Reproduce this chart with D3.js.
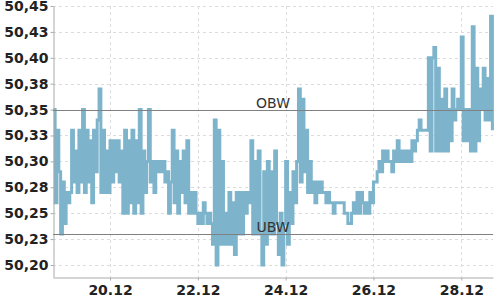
<!DOCTYPE html>
<html>
<head>
<meta charset="utf-8">
<script src="https://cdn.jsdelivr.net/npm/d3@7/dist/d3.min.js"></script>
<style>
  html, body { margin: 0; padding: 0; background: #fff; }
  svg { display: block; }
</style>
</head>
<body>
<svg id="chart" width="500" height="300"></svg>
<script>
// ---- data ----
const startTime = new Date(2023, 11, 18, 17, 0); // first sample, hourly samples
const prices = [
  50.35,50.26,50.33,50.29,50.23,50.28,50.24,50.27,50.26,50.27,
  50.33,50.28,50.31,50.27,50.33,50.28,50.35,50.27,50.33,50.28,
  50.32,50.26,50.33,50.29,50.34,50.37,50.27,50.33,50.27,50.31,
  50.27,50.32,50.28,50.32,50.29,50.32,50.28,50.31,50.25,50.33,
  50.25,50.32,50.26,50.33,50.25,50.32,50.26,50.35,50.25,50.31,
  50.27,50.30,50.35,50.28,50.30,50.27,50.30,50.29,50.30,50.29,
  50.30,50.28,50.29,50.25,50.28,50.33,50.26,50.31,50.25,50.30,
  50.27,50.31,50.26,50.32,50.25,50.27,50.25,50.27,50.25,50.24,
  50.25,50.24,50.26,50.25,50.24,50.25,50.24,50.22,50.34,50.20,
  50.33,50.22,50.30,50.22,50.25,50.22,50.27,50.22,50.26,50.21,
  50.27,50.23,50.27,50.23,50.27,50.25,50.27,50.26,50.32,50.23,
  50.30,50.23,50.31,50.23,50.20,50.29,50.22,50.30,50.23,50.29,
  50.23,50.31,50.24,50.21,50.25,50.20,50.24,50.30,50.22,50.27,
  50.24,50.29,50.26,50.30,50.37,50.28,50.36,50.29,50.33,50.27,
  50.30,50.27,50.28,50.26,50.28,50.27,50.28,50.27,50.27,50.26,
  50.27,50.26,50.26,50.25,50.26,50.26,50.26,50.26,50.26,50.25,
  50.25,50.24,50.24,50.25,50.26,50.25,50.27,50.25,50.27,50.26,
  50.25,50.26,50.25,50.27,50.26,50.28,50.28,50.29,50.30,50.29,
  50.31,50.30,50.31,50.30,50.30,50.29,50.31,50.30,50.32,50.30,
  50.31,50.30,50.31,50.30,50.31,50.30,50.32,50.31,50.32,50.33,
  50.34,50.33,50.33,50.33,50.33,50.40,50.31,50.40,50.41,50.31,
  50.39,50.31,50.36,50.31,50.37,50.31,50.35,50.32,50.37,50.34,
  50.35,50.36,50.35,50.42,50.32,50.35,50.32,50.35,50.31,50.43,
  50.31,50.39,50.32,50.37,50.35,50.39,50.34,50.38,50.34,50.44,
  50.33
];
const refValues = [50.35, 50.23];
const refLabels = ["OBW", "UBW"];
const yTicks = [50.20, 50.225, 50.25, 50.275, 50.30, 50.325, 50.35, 50.375, 50.40, 50.425, 50.45];
const yTickLabels = ["50,20","50,23","50,25","50,28","50,30","50,33","50,35","50,38","50,40","50,43","50,45"];
const xTicks = [new Date(2023,11,20), new Date(2023,11,22), new Date(2023,11,24), new Date(2023,11,26), new Date(2023,11,28)];
const xTickLabels = ["20.12","22.12","24.12","26.12","28.12"];
const xDomain = [new Date(2023,11,18,16,50), new Date(2023,11,28,17,20)];
const yDomain = [50.1884, 50.45];

// ---- chart ----
const svg = d3.select("#chart");
const pLeft = 53, pRight = 493, pTop = 6, pBottom = 277;
const x = d3.scaleTime().domain(xDomain).range([pLeft, pRight]);
const y = d3.scaleLinear().domain(yDomain).range([pBottom, pTop]);

const data = prices.map((v, i) => ({ t: d3.timeHour.offset(startTime, i), v }));

// grid
const grid = svg.append("g");
grid.selectAll("line.h").data(yTicks).join("line")
  .attr("x1", pLeft).attr("x2", pRight)
  .attr("y1", d => Math.round(y(d)) + 0.5).attr("y2", d => Math.round(y(d)) + 0.5)
  .attr("stroke", "#dcdcdc").attr("stroke-dasharray", "3,3");
grid.selectAll("line.v").data(xTicks).join("line")
  .attr("x1", d => Math.round(x(d)) + 0.5).attr("x2", d => Math.round(x(d)) + 0.5)
  .attr("y1", pTop).attr("y2", pBottom)
  .attr("stroke", "#dcdcdc").attr("stroke-dasharray", "3,3");

// data line
const line = d3.line().x(d => x(d.t)).y(d => y(d.v)).curve(d3.curveStepAfter);
svg.append("path").datum(data)
  .attr("d", line)
  .attr("fill", "none")
  .attr("stroke", "#7db4cc")
  .attr("stroke-width", 3)
  .attr("stroke-linejoin", "miter");

// axes
const yAxis = d3.axisLeft(y).tickValues(yTicks).tickFormat((d, i) => yTickLabels[i])
  .tickSize(3).tickSizeOuter(0).tickPadding(2);
const gy = svg.append("g").attr("transform", `translate(${pLeft + 0.5},0)`).call(yAxis);
const xAxis = d3.axisBottom(x).tickValues(xTicks).tickFormat((d, i) => xTickLabels[i])
  .tickSize(3).tickSizeOuter(0).tickPadding(5);
const gx = svg.append("g").attr("transform", `translate(0,${pBottom + 0.5})`).call(xAxis);
[gx, gy].forEach(g => {
  g.select(".domain").attr("stroke", "#aaaaaa");
  g.selectAll(".tick line").attr("stroke", "#aaaaaa");
  g.selectAll("text").attr("font-family", "DejaVu Sans").attr("font-weight", "bold")
    .attr("font-size", 14).attr("fill", "#222");
});

// reference lines
const refs = svg.append("g");
refValues.forEach((v, i) => {
  const yy = Math.round(y(v)) + 0.5;
  refs.append("line").attr("x1", pLeft).attr("x2", pRight).attr("y1", yy).attr("y2", yy)
    .attr("stroke", "#808080").attr("stroke-width", 1);
  refs.append("text").attr("x", (pLeft + pRight) / 2).attr("y", yy - 3)
    .attr("text-anchor", "middle").attr("font-family", "DejaVu Sans")
    .attr("font-size", 14).attr("fill", "#333").text(refLabels[i]);
});
</script>
</body>
</html>
